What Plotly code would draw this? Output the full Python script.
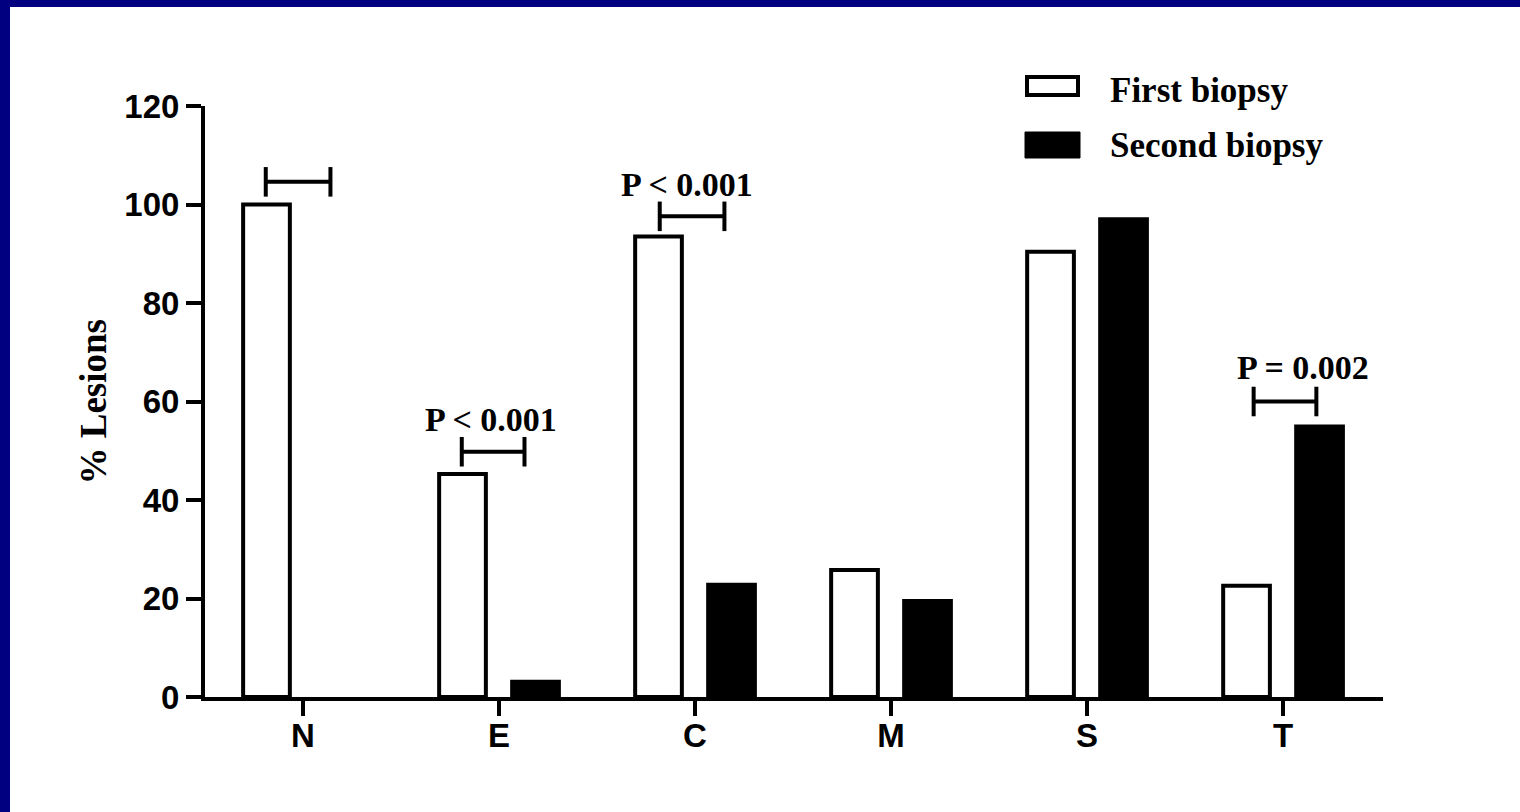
import plotly.graph_objects as go

# ---------------- data ----------------
categories = ["N", "E", "C", "M", "S", "T"]
first_biopsy = [100, 45.3, 93.5, 25.8, 90.4, 22.6]
second_biopsy = [0, 3.1, 22.8, 19.5, 97.0, 54.9]
series_names = ["First biopsy", "Second biopsy"]

y_ticks = [0, 20, 40, 60, 80, 100, 120]

# significance brackets: category index, y level, left/right offsets (category units), label
bracket_cat = [0, 1, 2, 5]
bracket_y = [104.6, 49.8, 97.6, 60.0]
bracket_left = [-0.19, -0.19, -0.18, -0.15]
bracket_right = [0.14, 0.13, 0.15, 0.17]
bracket_label = ["", "P < 0.001", "P < 0.001", "P = 0.002"]
label_dx = [0.0, -0.04, -0.04, 0.10]
label_y = [0, 56.3, 104.0, 67.0]
bracket_half = 3.0

# ---------------- layout geometry (pixels) ----------------
W_FIG, H_FIG = 1520, 812
L, R, T, B = 205, 137, 106, 115
PW = W_FIG - L - R
PH = H_FIG - T - B


def px_x(px):
    return (px - L) / PW


def px_y(py):
    return (H_FIG - B - py) / PH


NAVY = "#000080"
SERIF = "Liberation Serif, Times New Roman, serif"
SANS = "Liberation Sans, Arial, sans-serif"

fig = go.Figure()
fig.add_trace(go.Bar(
    x=categories, y=first_biopsy, name=series_names[0],
    marker=dict(color="white", line=dict(color="black", width=4)),
    showlegend=False,
))
fig.add_trace(go.Bar(
    x=categories, y=second_biopsy, name=series_names[1],
    marker=dict(color="black",
                line=dict(color="black", width=[0 if v == 0 else 4 for v in second_biopsy])),
    showlegend=False,
))

shapes = []
# navy border strips at top and left
shapes.append(dict(type="rect", xref="paper", yref="paper",
                   x0=px_x(-5), x1=px_x(10), y0=px_y(H_FIG + 5), y1=px_y(-5),
                   fillcolor=NAVY, line=dict(width=0), layer="below"))
shapes.append(dict(type="rect", xref="paper", yref="paper",
                   x0=px_x(-5), x1=px_x(W_FIG + 5), y0=px_y(7), y1=px_y(-5),
                   fillcolor=NAVY, line=dict(width=0), layer="below"))

# brackets
for c, y, dl, dr in zip(bracket_cat, bracket_y, bracket_left, bracket_right):
    x0, x1 = c + dl, c + dr
    ln = dict(color="black", width=4)
    shapes.append(dict(type="line", xref="x", yref="y", x0=x0, x1=x1, y0=y, y1=y, line=ln))
    shapes.append(dict(type="line", xref="x", yref="y", x0=x0, x1=x0,
                       y0=y - bracket_half, y1=y + bracket_half, line=ln))
    shapes.append(dict(type="line", xref="x", yref="y", x0=x1, x1=x1,
                       y0=y - bracket_half, y1=y + bracket_half, line=ln))

# custom legend boxes
shapes.append(dict(type="rect", xref="paper", yref="paper",
                   x0=px_x(1027), x1=px_x(1078), y0=px_y(95), y1=px_y(77),
                   fillcolor="white", line=dict(color="black", width=4)))
shapes.append(dict(type="rect", xref="paper", yref="paper",
                   x0=px_x(1025), x1=px_x(1080), y0=px_y(158), y1=px_y(132),
                   fillcolor="black", line=dict(color="black", width=1)))

annotations = []
for c, dx, ly, lab in zip(bracket_cat, label_dx, label_y, bracket_label):
    if lab:
        annotations.append(dict(x=c + dx, y=ly, xref="x", yref="y", text=lab,
                                showarrow=False, xanchor="center", yanchor="middle",
                                font=dict(family=SERIF, size=34, color="black", weight="bold")))

annotations.append(dict(x=px_x(1108), y=px_y(90), xref="paper", yref="paper",
                        text=series_names[0], showarrow=False, xanchor="left", yanchor="middle",
                        font=dict(family=SERIF, size=35, color="black", weight="bold")))
annotations.append(dict(x=px_x(1108), y=px_y(145), xref="paper", yref="paper",
                        text=series_names[1], showarrow=False, xanchor="left", yanchor="middle",
                        font=dict(family=SERIF, size=35, color="black", weight="bold")))
annotations.append(dict(x=px_x(93), y=0.5, xref="paper", yref="paper",
                        text="% Lesions", textangle=-90, showarrow=False,
                        xanchor="center", yanchor="middle",
                        font=dict(family=SERIF, size=37, color="black", weight="bold")))

fig.update_layout(
    width=W_FIG, height=H_FIG,
    margin=dict(l=L, r=R, t=T, b=B, pad=0),
    paper_bgcolor="white", plot_bgcolor="white",
    barmode="group", bargap=0.255, bargroupgap=0.36,
    shapes=shapes, annotations=annotations,
    showlegend=False,
    xaxis=dict(
        type="category", range=[-0.5, 5.51],
        showline=True, linecolor="black", linewidth=4,
        ticks="outside", ticklen=15, tickwidth=4, tickcolor="black",
        showgrid=False, zeroline=False, ticklabelstandoff=-9,
        tickfont=dict(family=SANS, size=33, color="black", weight="bold"),
    ),
    yaxis=dict(
        range=[0, 120], tickvals=y_ticks, ticktext=[str(v) for v in y_ticks],
        showline=True, linecolor="black", linewidth=4,
        ticks="outside", ticklen=15, tickwidth=4, tickcolor="black",
        showgrid=False, zeroline=False,
        tickfont=dict(family=SANS, size=33, color="black", weight="bold"),
    ),
)

fig.write_html(
    "out.html",
    config={"displayModeBar": False},
    post_script="document.body.style.margin='0';document.body.style.overflow='hidden';",
)
